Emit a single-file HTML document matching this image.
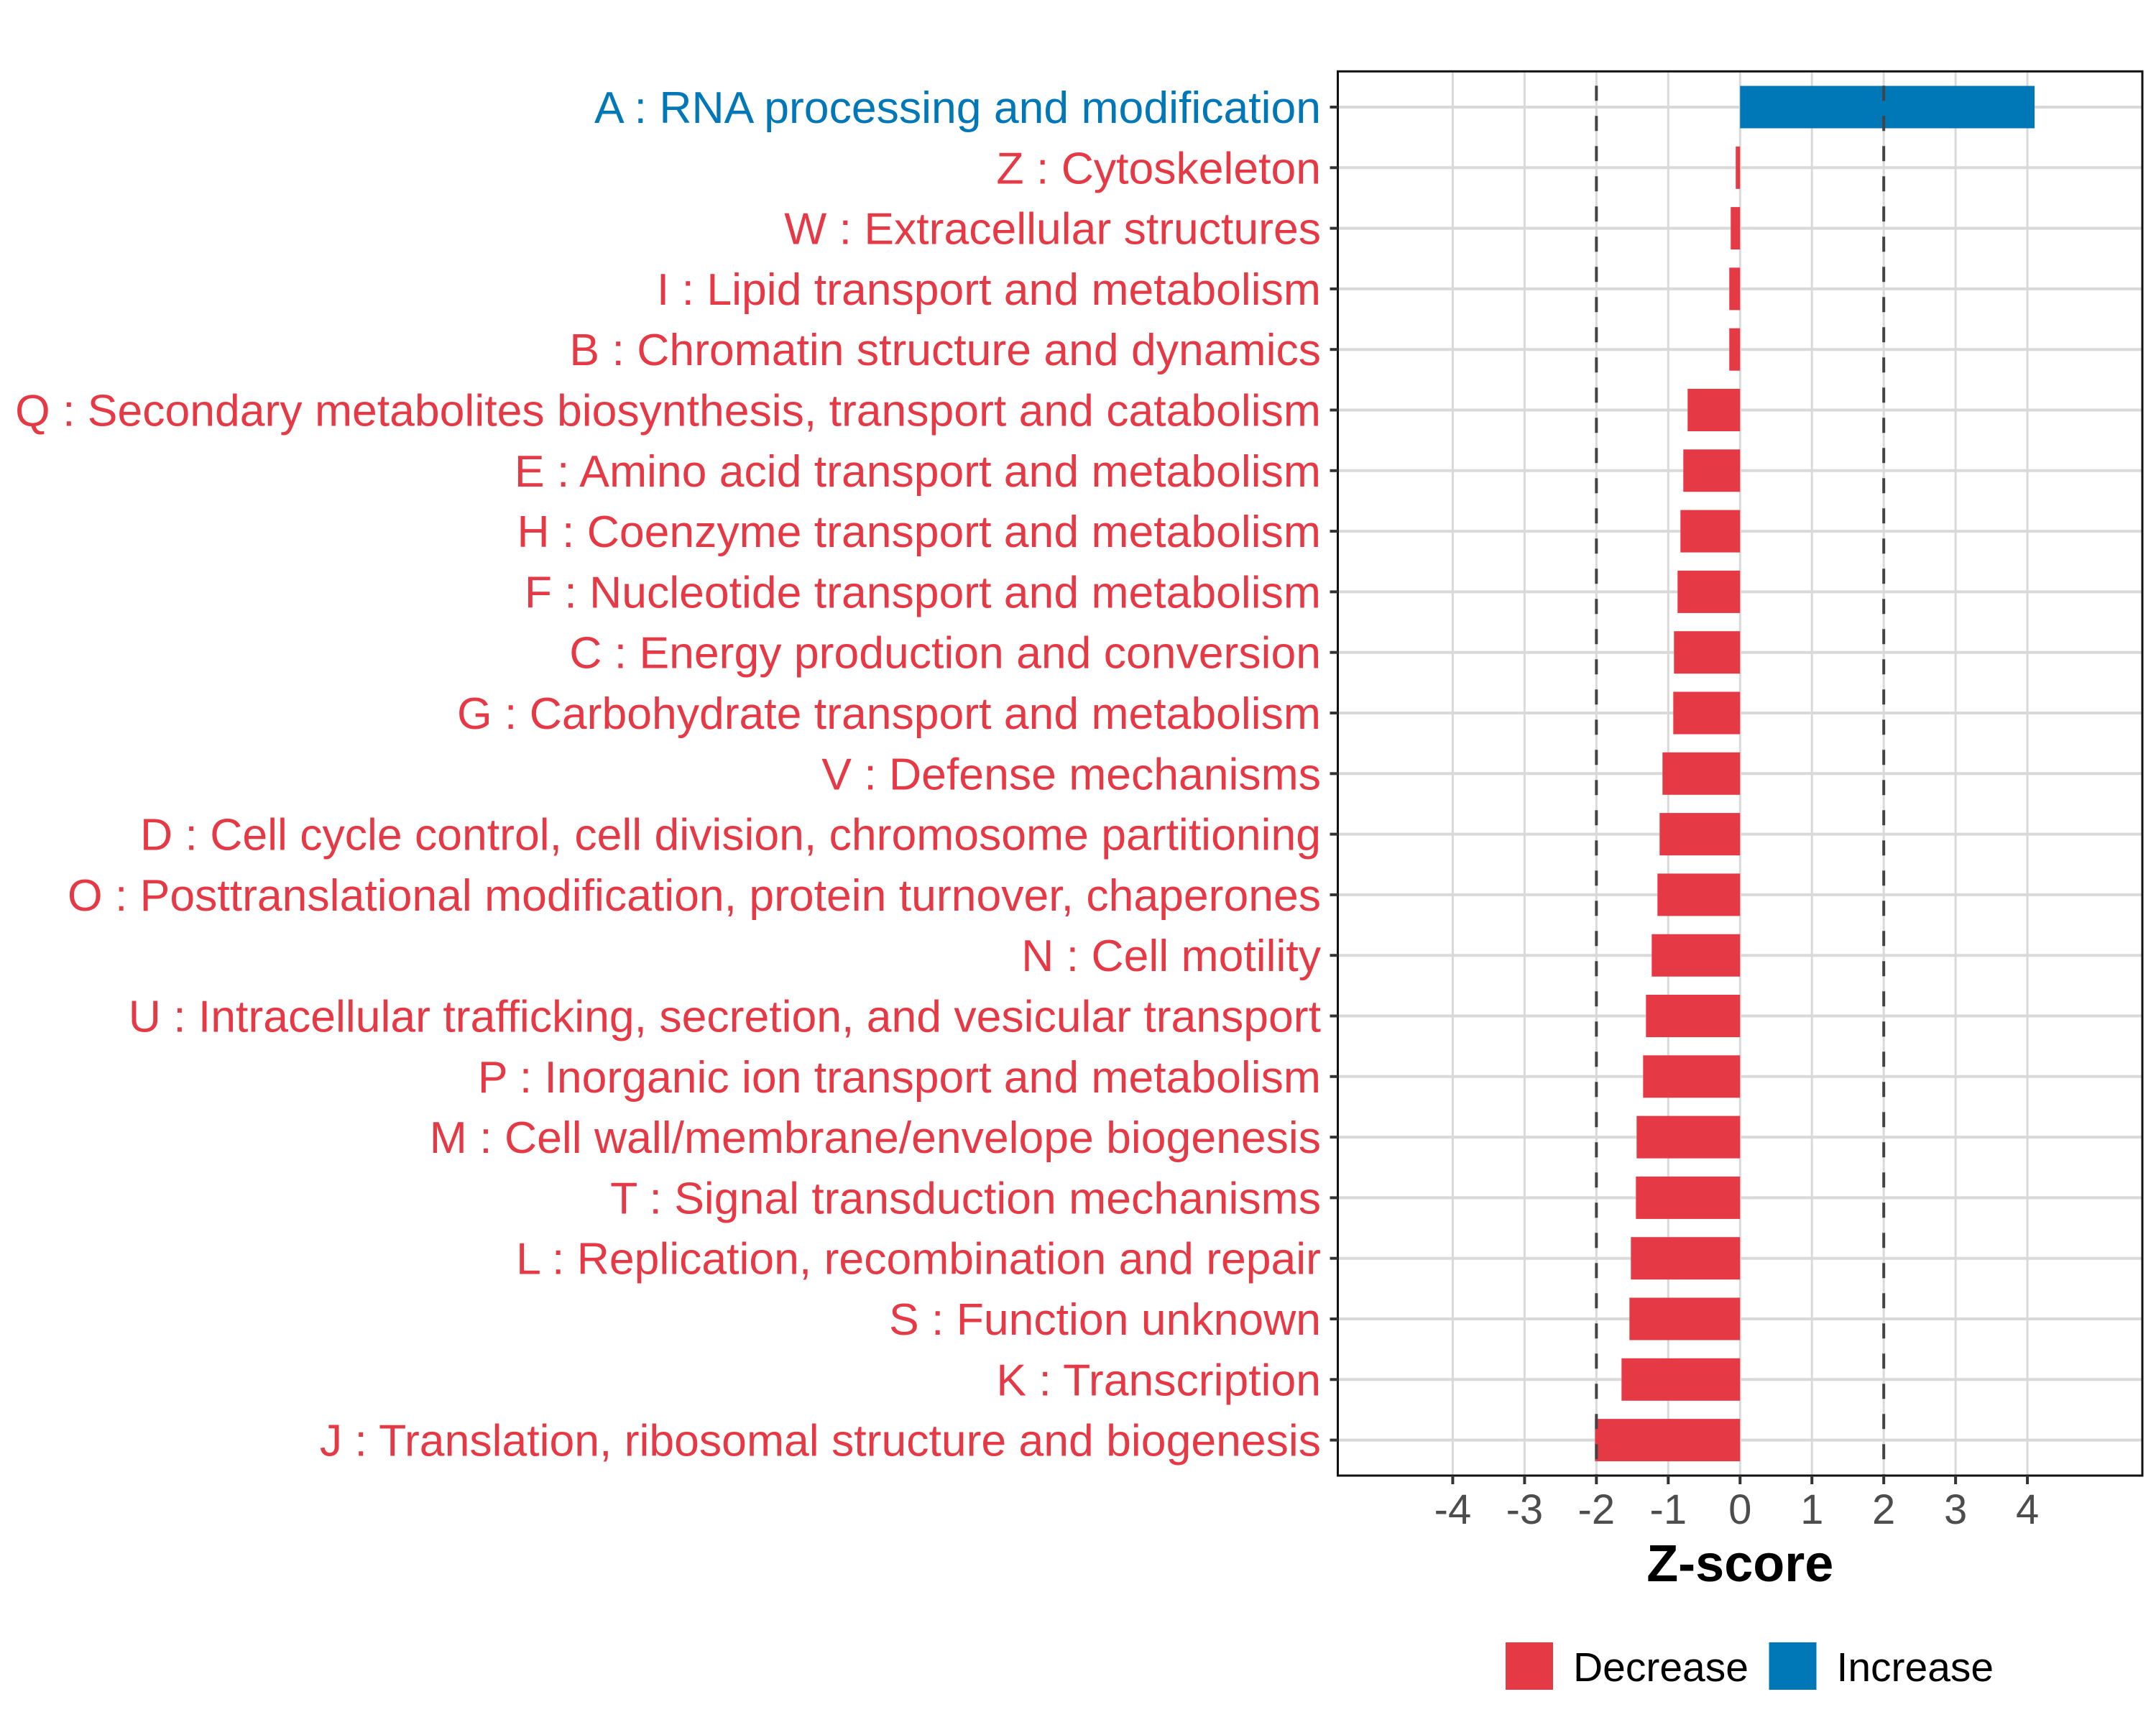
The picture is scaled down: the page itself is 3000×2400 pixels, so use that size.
<!DOCTYPE html>
<html><head><meta charset="utf-8"><style>html,body{margin:0;padding:0;background:#fff}svg{display:block}</style></head>
<body>
<svg id="chart" width="3000" height="2400" xmlns="http://www.w3.org/2000/svg" font-family="Liberation Sans, sans-serif"></svg>
<script>
const categories = ["A : RNA processing and modification","Z : Cytoskeleton","W : Extracellular structures","I : Lipid transport and metabolism","B : Chromatin structure and dynamics","Q : Secondary metabolites biosynthesis, transport and catabolism","E : Amino acid transport and metabolism","H : Coenzyme transport and metabolism","F : Nucleotide transport and metabolism","C : Energy production and conversion","G : Carbohydrate transport and metabolism","V : Defense mechanisms","D : Cell cycle control, cell division, chromosome partitioning","O : Posttranslational modification, protein turnover, chaperones","N : Cell motility","U : Intracellular trafficking, secretion, and vesicular transport","P : Inorganic ion transport and metabolism","M : Cell wall/membrane/envelope biogenesis","T : Signal transduction mechanisms","L : Replication, recombination and repair","S : Function unknown","K : Transcription","J : Translation, ribosomal structure and biogenesis"];
const zscores = [4.1,-0.06,-0.13,-0.15,-0.15,-0.73,-0.79,-0.83,-0.87,-0.92,-0.93,-1.08,-1.12,-1.15,-1.23,-1.31,-1.35,-1.44,-1.45,-1.52,-1.54,-1.65,-2.02];
const xTicks = [-4,-3,-2,-1,0,1,2,3,4];
const thresholds = [-2,2];
const legendLabels = ["Decrease","Increase"];

const RED="#E63946", BLUE="#0077B6";
const L=1861.5,R=2981,T=99.3,B=2053;
const xMin=-5.6,xMax=5.6;
const x=v=>L+(v-xMin)/(xMax-xMin)*(R-L);
const y0=149,step=84.3;
const y=i=>y0+i*step;
const NS="http://www.w3.org/2000/svg";
const svg=document.getElementById('chart');
function mk(tag,attrs,parent){const e=document.createElementNS(NS,tag);for(const k in attrs)e.setAttribute(k,attrs[k]);(parent||svg).appendChild(e);return e;}

const panel=mk('g',{});


xTicks.forEach(t=>{const g=mk('line',{x1:x(t),x2:x(t),y1:T,y2:B,stroke:'#D9D9D9','stroke-width':3},panel);

});
categories.forEach((c,i)=>{const g=mk('line',{x1:L,x2:R,y1:y(i),y2:y(i),stroke:'#D9D9D9','stroke-width':4},panel);

});
const bh=0.7*step;
zscores.forEach((v,i)=>{const x0=Math.min(x(0),x(v)),w=Math.abs(x(v)-x(0));
const r=mk('rect',{x:x0,y:y(i)-bh/2,width:w,height:bh,fill:v>=0?BLUE:RED},panel);

});
thresholds.forEach(t=>{const l=mk('line',{x1:x(t),x2:x(t),y1:T,y2:B,stroke:'#444','stroke-width':4,'stroke-dasharray':'21 21','stroke-dashoffset':'-20'},panel);

});
const bd=mk('rect',{x:L,y:T,width:R-L,height:B-T,fill:'none',stroke:'#111','stroke-width':3},panel);


categories.forEach((c,i)=>{
const tk=mk('line',{x1:L-11,x2:L,y1:y(i),y2:y(i),stroke:'#333','stroke-width':4});


const t=mk('text',{x:1838,y:y(i)+22,'text-anchor':'end','font-size':62.5,fill:zscores[i]>=0?BLUE:RED});
t.textContent=c;

});
xTicks.forEach(v=>{
const tk=mk('line',{x1:x(v),x2:x(v),y1:B,y2:B+12,stroke:'#333','stroke-width':4});


const t=mk('text',{x:x(v),y:2120,'text-anchor':'middle','font-size':58,fill:'#4D4D4D'});
t.textContent=String(v);

});
const xt=mk('text',{x:x(0),y:2200,'text-anchor':'middle','font-size':72,'font-weight':'bold',fill:'#000'});
xt.textContent='Z-score';


const lg=mk('g',{});


const lx=[2095,2461.5],cols=[RED,BLUE];
legendLabels.forEach((lab,i)=>{
const s=mk('rect',{x:lx[i],y:2285,width:66,height:66,fill:cols[i]},lg);


const t=mk('text',{x:lx[i]+94,y:2339,'font-size':57,fill:'#000'},lg);
t.textContent=lab;

});
</script>
</body></html>
